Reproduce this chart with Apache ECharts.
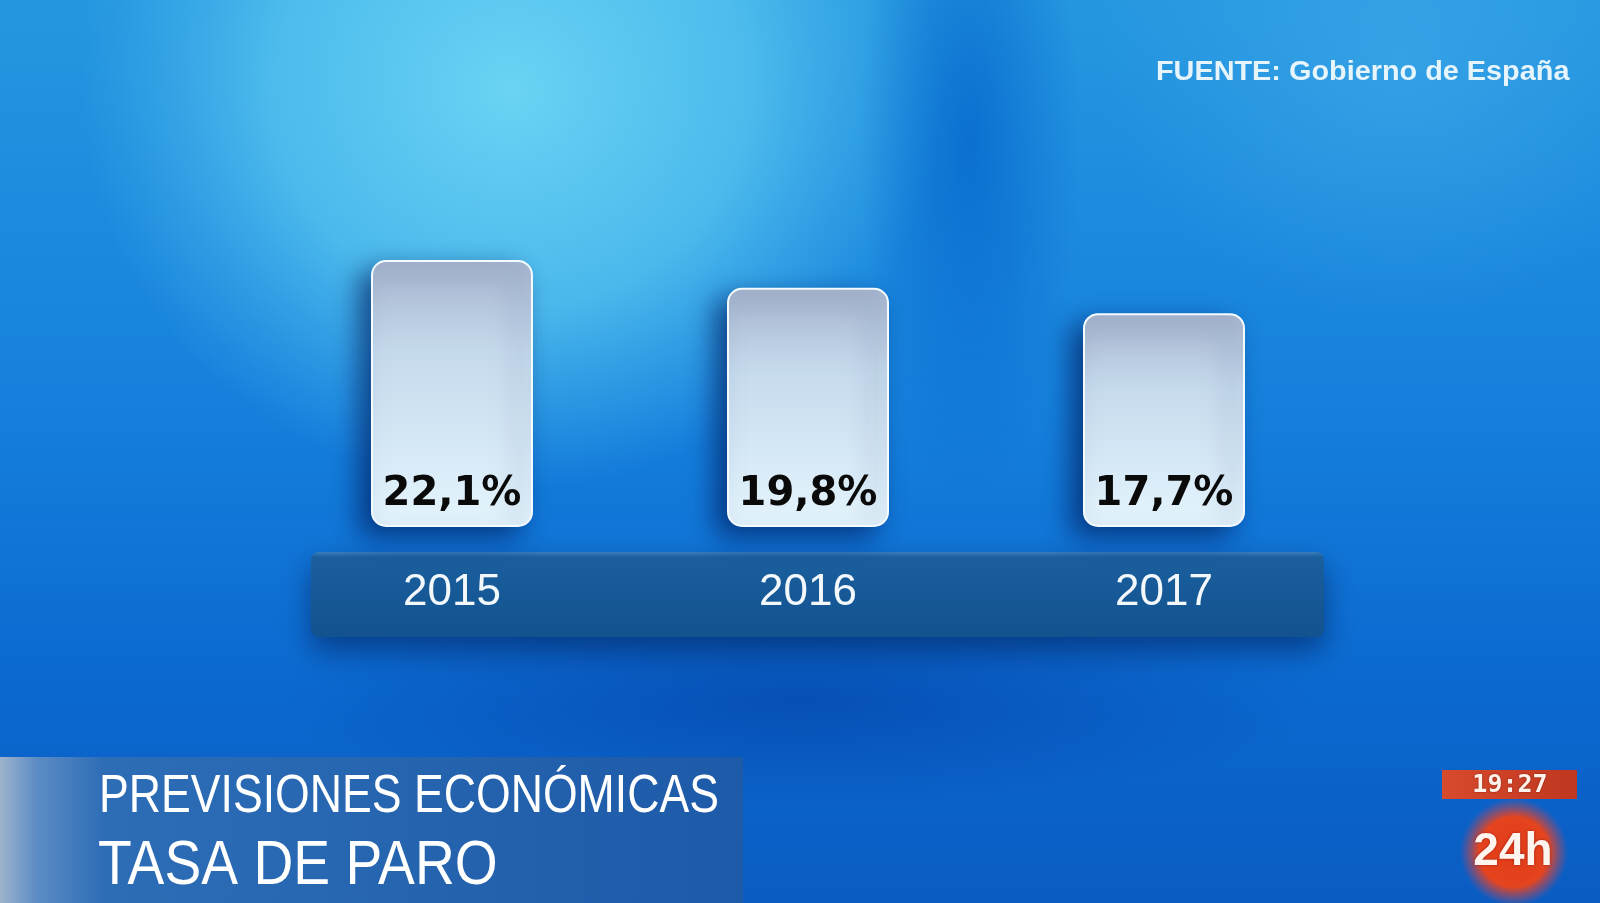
<!DOCTYPE html>
<html>
<head>
<meta charset="utf-8">
<script src="https://cdn.jsdelivr.net/npm/echarts@6/dist/echarts.min.js"></script>
<style>html,body{margin:0;padding:0;overflow:hidden;}#c{width:1600px;height:903px;}</style>
</head>
<body>
<div id="c"></div>
<script>
const years = ['2015', '2016', '2017'];
const paro = [22.1, 19.8, 17.7];
const valueLabels = ['22,1%', '19,8%', '17,7%'];
const sourceText = 'FUENTE: Gobierno de España';
const titleLine1 = 'PREVISIONES ECONÓMICAS';
const titleLine2 = 'TASA DE PARO';
const clockText = '19:27';
const channelText = '24h';

const chart = echarts.init(document.getElementById('c'), null, {renderer: 'canvas'});

const sans = '"Liberation Sans", Arial, sans-serif';

function ellipse(cx, cy, rx, ry, stops, z) {
  return {type: 'rect', z: z, silent: true, x: cx, y: cy, scaleX: rx / 100, scaleY: ry / 100,
    shape: {x: -100, y: -100, width: 200, height: 200},
    style: {fill: new echarts.graphic.RadialGradient(0.5, 0.5, 0.5, stops)}};
}

chart.setOption({
  animation: false,
  graphic: [
    {type: 'rect', z: -30, silent: true, shape: {x: 0, y: 0, width: 1600, height: 903},
      style: {fill: new echarts.graphic.LinearGradient(0, 0, 0, 1, [
        {offset: 0, color: '#2597e0'},
        {offset: 0.45, color: '#1580dc'},
        {offset: 0.75, color: '#0b69d0'},
        {offset: 1, color: '#0a5cc2'}
      ])}},
    ellipse(510, 90, 430, 400, [
      {offset: 0, color: 'rgba(110,215,245,0.95)'},
      {offset: 0.55, color: 'rgba(95,205,242,0.7)'},
      {offset: 1, color: 'rgba(80,190,240,0)'}
    ], -29),
    ellipse(970, 140, 110, 360, [
      {offset: 0, color: 'rgba(0,95,200,0.65)'},
      {offset: 1, color: 'rgba(0,95,200,0)'}
    ], -28),
    ellipse(1400, 60, 300, 260, [
      {offset: 0, color: 'rgba(70,175,235,0.5)'},
      {offset: 1, color: 'rgba(70,175,235,0)'}
    ], -28),
    ellipse(800, 700, 520, 110, [
      {offset: 0, color: 'rgba(0,50,150,0.45)'},
      {offset: 1, color: 'rgba(0,50,150,0)'}
    ], -27),
    // axis band
    {type: 'rect', z: -5, silent: true,
      shape: {x: 311, y: 552, width: 1013, height: 85, r: 8},
      style: {fill: new echarts.graphic.LinearGradient(0, 0, 0, 1, [
        {offset: 0, color: '#3a7dbb'},
        {offset: 0.06, color: '#1b5f9e'},
        {offset: 1, color: '#12528e'}
      ]), shadowBlur: 30, shadowColor: 'rgba(0,25,80,0.55)', shadowOffsetY: 14}},
    // source
    {type: 'text', silent: true, x: 1156, y: 72, scaleX: 1.03,
      style: {text: sourceText, fill: '#e6f4fb', font: 'bold 28px ' + sans, textVerticalAlign: 'middle'}},
    // lower third
    {type: 'rect', silent: true, shape: {x: 0, y: 757, width: 743, height: 146},
      style: {fill: new echarts.graphic.LinearGradient(0, 0, 1, 0, [
        {offset: 0, color: '#9db3cc'},
        {offset: 0.05, color: '#5c8cc4'},
        {offset: 0.14, color: '#2d6db6'},
        {offset: 1, color: '#1d5aa8'}
      ])}},
    {type: 'text', silent: true, x: 99, y: 797, scaleX: 0.842,
      style: {text: titleLine1, fill: '#ffffff', font: '53px ' + sans, textVerticalAlign: 'middle'}},
    {type: 'text', silent: true, x: 98, y: 867, scaleX: 0.876,
      style: {text: titleLine2, fill: '#ffffff', font: '63px ' + sans, textVerticalAlign: 'middle'}},
    // clock
    {type: 'rect', silent: true, shape: {x: 1442, y: 770, width: 135, height: 29},
      style: {fill: new echarts.graphic.LinearGradient(0, 0, 1, 0, [
        {offset: 0, color: '#d84a2c'},
        {offset: 1, color: '#bf3720'}
      ])}},
    {type: 'text', silent: true, x: 1510, y: 785,
      style: {text: clockText, fill: '#fff2ea', font: 'bold 25px "DejaVu Sans Mono", monospace', textAlign: 'center', textVerticalAlign: 'middle',
        textShadowColor: 'rgba(60,0,0,0.6)', textShadowBlur: 2}},
    {type: 'circle', silent: true, shape: {cx: 1514, cy: 852, r: 54},
      style: {fill: new echarts.graphic.RadialGradient(0.5, 0.5, 0.5, [
        {offset: 0, color: '#e23a18'},
        {offset: 0.65, color: '#e4441e'},
        {offset: 1, color: 'rgba(200,70,90,0)'}
      ])}},
    {type: 'text', silent: true, x: 1513, y: 852,
      style: {text: channelText, fill: '#fff4ee', font: 'bold 46px ' + sans, textAlign: 'center', textVerticalAlign: 'middle',
        textShadowColor: 'rgba(80,0,0,0.5)', textShadowBlur: 3}}
  ],
  grid: {left: 274, right: 258, top: 164.6, bottom: 376},
  xAxis: {
    type: 'category', data: years,
    axisLine: {show: false}, axisTick: {show: false},
    axisLabel: {color: '#f2f8fc', fontSize: 44, fontFamily: sans, margin: 44}
  },
  yAxis: {type: 'value', min: 0, max: 30, show: false, splitLine: {show: false}},
  series: [{
    type: 'bar', barWidth: 162,
    data: paro,
    itemStyle: {
      borderRadius: 14,
      borderColor: '#f4fbff', borderWidth: 2,
      color: new echarts.graphic.LinearGradient(0, 0, 0, 1, [
        {offset: 0, color: '#a6b5ce'},
        {offset: 0.35, color: '#c6daed'},
        {offset: 1, color: '#e4f5fd'}
      ]),
      shadowColor: 'rgba(0,25,90,0.65)', shadowBlur: 26, shadowOffsetX: -12, shadowOffsetY: 10
    },
    label: {
      show: true, position: 'insideBottom', distance: 12,
      formatter: p => valueLabels[p.dataIndex],
      color: '#0a0a0a', fontSize: 40, fontWeight: 'bold',
      fontFamily: '"DejaVu Sans", sans-serif'
    }
  }]
});
</script>
</body>
</html>
